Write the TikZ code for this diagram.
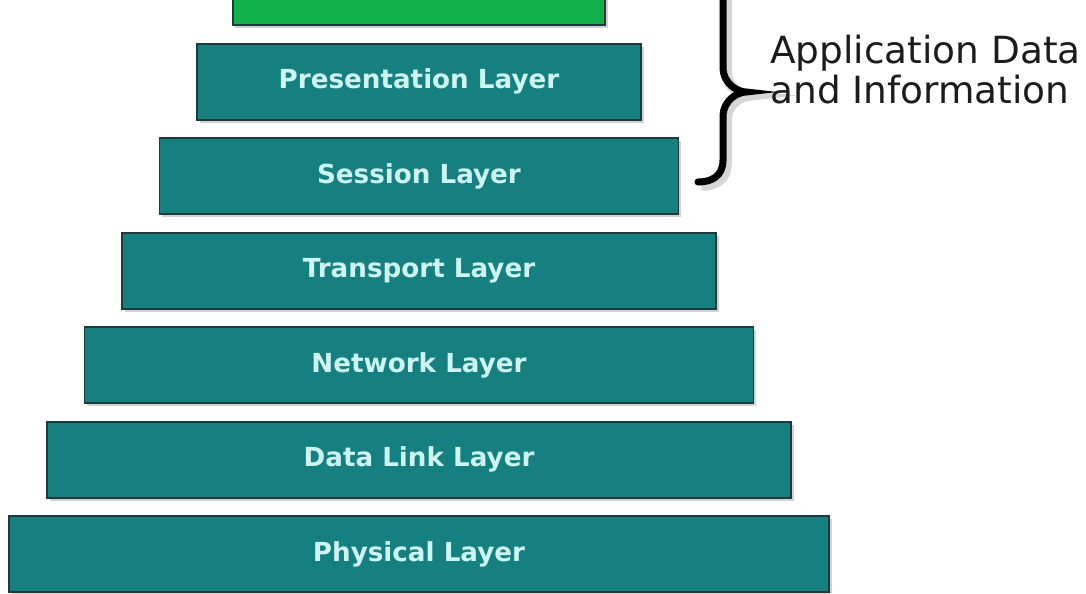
\documentclass[tikz,border=0pt]{standalone}
\usepackage{fontspec}
\setmainfont{DejaVu Sans}
\usepackage{tikz}
\usetikzlibrary{positioning,shadows}
\definecolor{LayerTeal}{HTML}{168080}
\definecolor{LayerGreen}{HTML}{12B04A}
\definecolor{EdgeDark}{HTML}{1E3A3A}
\definecolor{LabelCyan}{HTML}{CDF5F2}
\definecolor{InkBlack}{HTML}{1C1C1C}
\tikzset{
  % Base box
  LB/.style={rectangle,minimum height=1.52cm,
             text centered,draw=EdgeDark,line width=1.1pt,
             font=\fontsize{14.9}{17}\selectfont\bfseries,
             drop shadow={shadow xshift=0.05cm,shadow yshift=-0.06cm,opacity=0.35}},
  % Colour variants
  lT/.style={LB,fill=LayerTeal,text=LabelCyan},
  lG/.style={LB,fill=LayerGreen},
  % Brace and side note
  BR/.style={draw=black,line width=4pt,line cap=round,
             preaction={draw=black!45,opacity=0.35,line width=6pt,
                        transform canvas={shift={(0.07,-0.07)}}}},
  TX/.style={font=\fontsize{21.3}{22.8}\selectfont,text=InkBlack,
             align=left,inner sep=0pt}
}
\begin{document}
\begin{tikzpicture}
  \useasboundingbox[fill=white] (0,0) rectangle (21.72,11.86);

  \node[lT,minimum width=16.4cm] (phys) at (8.38,0.78)    {Physical Layer};
  \node[lT,minimum width=14.88cm,above=0.33cm of phys]  (dlink) {Data Link Layer};
  \node[lT,minimum width=13.38cm,above=0.33cm of dlink] (netw)  {Network Layer};
  \node[lT,minimum width=11.88cm,above=0.33cm of netw]  (trans) {Transport Layer};
  \node[lT,minimum width=10.38cm,above=0.33cm of trans] (sess)  {Session Layer};
  \node[lT,minimum width=8.88cm,above=0.33cm of sess]   (pres)  {Presentation Layer};
  \node[lG,minimum width=7.45cm,above=0.33cm of pres]   (appl)  {};

  % curly brace on the right
  \coordinate (brtop) at (14.46,12.3);
  \coordinate (brtip) at (14.92,10.02);
  \coordinate (brend) at (13.96,8.22);
  \draw[BR] (brtop) -- (14.46,10.52)
            .. controls (14.46,10.16) and (14.78,10.02) .. (brtip)
            .. controls (14.78,10.02) and (14.46,9.88) .. (14.46,9.52)
            -- (14.46,8.66)
            .. controls (14.46,8.34) and (14.24,8.22) .. (brend);

  \node[TX,anchor=north west] (info) at (15.4,11.17) {Application Data\\and Information};
\end{tikzpicture}
\end{document}
